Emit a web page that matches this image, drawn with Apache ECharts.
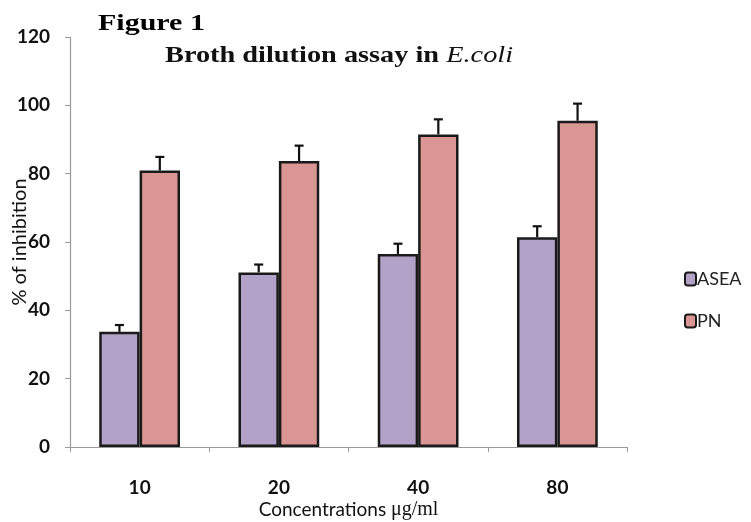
<!DOCTYPE html>
<html>
<head>
<meta charset="utf-8">
<script src="https://cdn.jsdelivr.net/npm/echarts@6/dist/echarts.min.js"></script>
<style>
  html, body { margin: 0; padding: 0; background: #fff; }
  #main { width: 751px; height: 522px; }
</style>
</head>
<body>
<div id="main"></div>
<script>
// data
var concentrations = ["10", "20", "40", "80"];
var aseaValues = [33.7, 51.1, 56.5, 61.4];
var aseaErrors = [2.0, 2.3, 3.0, 3.2];
var pnValues = [80.9, 83.7, 91.5, 95.5];
var pnErrors = [4.0, 4.5, 4.4, 5.0];
var yTicks = [0, 20, 40, 60, 80, 100, 120];

var catGap = 0.42; // share of category left empty

// one-sided (upward) error bars, shifted onto each bar of the pair
function errorSeries(name, values, errors, side) {
  return {
    name: name + "-err",
    type: "custom",
    z: 5,
    silent: true,
    data: values.map(function (v, i) { return [i, v, v + errors[i]]; }),
    renderItem: function (params, api) {
      var band = api.size([1, 0])[0];
      var barW = band * (1 - catGap) / 2;
      var base = api.coord([api.value(0), api.value(1)]);
      var top = api.coord([api.value(0), api.value(2)]);
      var x = base[0] + side * barW / 2;
      var cap = 4.5;
      var st = { stroke: "#111", lineWidth: 2.2 };
      return {
        type: "group",
        children: [
          { type: "line", shape: { x1: x, y1: base[1], x2: x, y2: top[1] }, style: st },
          { type: "line", shape: { x1: x - cap, y1: top[1], x2: x + cap, y2: top[1] }, style: st }
        ]
      };
    }
  };
}

var axisFont = { fontFamily: "Lato", fontWeight: "bold", fontSize: 19, color: "#111" };

var myChart = echarts.init(document.getElementById("main"));
var option = {
  animation: false,
  graphic: [
    {
      type: "text",
      x: 98,
      y: 12,
      scaleX: 1.25,
      style: {
        text: "Figure 1",
        font: "bold 24px 'Liberation Serif'",
        fill: "#000"
      }
    },
    {
      type: "text",
      x: 165,
      y: 44,
      scaleX: 1.18,
      style: {
        text: "{b|Broth dilution assay in }{i|E.coli}",
        rich: {
          b: { fontFamily: "Liberation Serif", fontWeight: "bold", fontSize: 24, fill: "#111" },
          i: { fontFamily: "Liberation Serif", fontStyle: "italic", fontWeight: "normal", fontSize: 24, fill: "#111" }
        }
      }
    }
  ],
  legend: {
    orient: "vertical",
    left: 679,
    top: 265,
    itemGap: 24,
    itemWidth: 11,
    itemHeight: 13,
    data: ["ASEA", "PN"],
    textStyle: { fontFamily: "Lato", fontSize: 18, color: "#222", padding: [0, 0, 0, -4] }
  },
  grid: { left: 70, right: 124, top: 37, bottom: 75, outerBoundsMode: "none", containLabel: false },
  xAxis: {
    type: "category",
    data: concentrations,
    name: "{a|Concentrations }{b|μg/ml}",
    nameLocation: "middle",
    nameGap: 53,
    nameMoveOverlap: false,
    nameTextStyle: {
      rich: {
        a: { fontFamily: "Lato", fontSize: 19, color: "#111" },
        b: { fontFamily: "Liberation Serif", fontSize: 20, color: "#111" }
      }
    },
    axisLine: { lineStyle: { color: "#999", width: 1.2 } },
    axisTick: { show: true, length: 5, lineStyle: { color: "#999" } },
    axisLabel: Object.assign({ margin: 31 }, axisFont)
  },
  yAxis: {
    type: "value",
    min: yTicks[0],
    max: yTicks[yTicks.length - 1],
    interval: 20,
    name: "% of inhibition",
    nameLocation: "middle",
    nameGap: 40,
    nameMoveOverlap: false,
    nameTextStyle: { fontFamily: "Lato", fontSize: 20, color: "#111" },
    splitLine: { show: false },
    axisLine: { show: true, lineStyle: { color: "#999", width: 1.2 } },
    axisTick: { show: true, length: 5, lineStyle: { color: "#999" } },
    axisLabel: Object.assign({ margin: 20 }, axisFont)
  },
  series: [
    {
      name: "ASEA",
      type: "bar",
      data: aseaValues,
      barGap: "0%",
      barCategoryGap: "42%",
      itemStyle: { color: "#B3A2C7", borderColor: "#1a1a1a", borderWidth: 2.5 }
    },
    {
      name: "PN",
      type: "bar",
      data: pnValues,
      barGap: "0%",
      barCategoryGap: "42%",
      itemStyle: { color: "#D99694", borderColor: "#1a1a1a", borderWidth: 2.5 }
    },
    errorSeries("ASEA", aseaValues, aseaErrors, -1),
    errorSeries("PN", pnValues, pnErrors, 1)
  ]
};
myChart.setOption(option);
</script>
</body>
</html>
